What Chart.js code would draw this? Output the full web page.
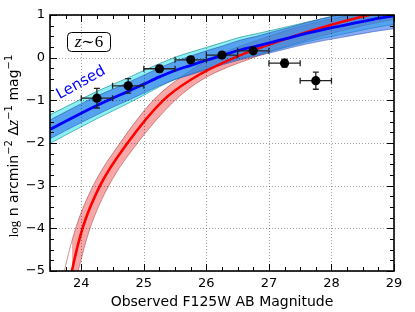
<!DOCTYPE html>
<html><head><meta charset="utf-8">
<script src="https://cdn.jsdelivr.net/npm/chart.js@4.4.1/dist/chart.umd.min.js"></script>
<style>html,body{margin:0;padding:0;background:#fff;} canvas{display:block;}</style>
</head><body>
<canvas id="c" width="415" height="312"></canvas>
<script>
// ---- axis ticks ----
const xTicks = [24, 25, 26, 27, 28, 29];
const yTicks = [-5, -4, -3, -2, -1, 0, 1];

// ---- observed points ----
const obsMag   = [24.25, 24.75, 25.25, 25.75, 26.25, 26.75, 27.25, 27.75];
const obsLogN  = [-0.95, -0.66, -0.26, -0.05, 0.06, 0.16, -0.13, -0.54];
const obsMagErr = [0.25, 0.25, 0.25, 0.25, 0.25, 0.25, 0.25, 0.25];
const obsNErr  = [0.23, 0.17, 0.08, 0.07, 0.06, 0.05, 0.09, 0.2];

// ---- intrinsic (red) model and its band ----
const redX      = [23.75, 23.85, 24.02, 24.30, 24.74, 25.31, 25.77, 26.45, 27.40, 28.00, 28.60, 29.00];
const redY      = [-5.8, -5.0, -4.0, -3.0, -2.0, -1.0, -0.5, 0.0, 0.5, 0.77, 1.0, 1.12];
const redUpX    = [23.62, 23.73, 23.91, 24.19, 24.62, 25.15, 25.55, 26.10, 26.80, 27.60, 28.30, 29.00];
const redUpY    = [-5.8, -5.0, -4.0, -3.0, -2.0, -1.0, -0.5, 0.0, 0.4, 0.77, 1.0, 1.2];
const redLoX    = [23.85, 23.95, 24.14, 24.44, 24.90, 25.50, 25.95, 26.75, 27.70, 28.50, 29.00];
const redLoY    = [-5.6, -5.0, -4.0, -3.0, -2.0, -1.0, -0.5, 0.0, 0.45, 0.75, 0.9];

// ---- lensed (blue) model ----
const blueX     = [23.5, 24.0, 24.25, 24.5, 24.75, 25.0, 25.25, 25.5, 25.75, 26.0, 26.27, 26.54, 26.8, 27.07, 27.34, 27.6, 27.87, 28.14, 28.4, 28.67, 29.0];
const blueY     = [-1.68, -1.3, -1.12, -0.95, -0.79, -0.62, -0.45, -0.3, -0.18, -0.06, 0.06, 0.18, 0.27, 0.37, 0.47, 0.57, 0.66, 0.74, 0.82, 0.9, 0.98];
const blueUpper = [-1.46, -1.08, -0.90, -0.74, -0.58, -0.41, -0.24, -0.09, 0.04, 0.16, 0.28, 0.41, 0.50, 0.61, 0.71, 0.82, 0.92, 1.01, 1.10, 1.19, 1.28];
const blueLower = [-1.90, -1.52, -1.34, -1.16, -1.00, -0.83, -0.66, -0.51, -0.40, -0.28, -0.16, -0.05, 0.04, 0.13, 0.23, 0.32, 0.40, 0.47, 0.54, 0.61, 0.68];
const cyanUpper = [-1.34, -0.97, -0.79, -0.63, -0.47, -0.30, -0.14, 0.01, 0.13, 0.24, 0.36, 0.48, 0.56, 0.65, 0.74, 0.83, 0.92, 1.01, 1.10, 1.19, 1.28];
const cyanLower = [-2.01, -1.62, -1.43, -1.25, -1.07, -0.88, -0.68, -0.51, -0.38, -0.26, -0.14, -0.02, 0.07, 0.17, 0.27, 0.37, 0.46, 0.54, 0.62, 0.70, 0.78];

const pts = (xs, ys) => xs.map((x, i) => ({x: x, y: ys[i]}));
const fmt = v => (v < 0 ? '\u2212' + Math.abs(v) : String(v));

const lineBase = {showLine: true, pointRadius: 0, cubicInterpolationMode: 'monotone', fill: false};

const datasets = [
  // 0 red lower edge
  Object.assign({}, lineBase, {data: pts(redLoX, redLoY), borderColor: 'rgba(150,70,70,0.7)', borderWidth: 0.8, order: 20}),
  // 1 red upper edge, fill to 0
  Object.assign({}, lineBase, {data: pts(redUpX, redUpY), borderColor: 'rgba(150,70,70,0.7)', borderWidth: 0.8, order: 19, fill: {target: 0}, backgroundColor: 'rgba(238,60,60,0.45)'}),
  // 2 cyan lower
  Object.assign({}, lineBase, {data: pts(blueX, cyanLower), borderColor: 'rgba(0,130,130,0.75)', borderWidth: 0.8, order: 18}),
  // 3 cyan upper
  Object.assign({}, lineBase, {data: pts(blueX, cyanUpper), borderColor: 'rgba(0,130,130,0.75)', borderWidth: 0.8, order: 17, fill: {target: 2}, backgroundColor: 'rgba(0,220,230,0.45)'}),
  // 4 blue lower
  Object.assign({}, lineBase, {data: pts(blueX, blueLower), borderColor: 'rgba(20,50,150,0.6)', borderWidth: 0.8, order: 16}),
  // 5 blue upper
  Object.assign({}, lineBase, {data: pts(blueX, blueUpper), borderColor: 'rgba(20,50,150,0.6)', borderWidth: 0.8, order: 15, fill: {target: 4}, backgroundColor: 'rgba(40,100,235,0.55)'}),
  // 6 red line
  Object.assign({}, lineBase, {data: pts(redX, redY), borderColor: '#ff0000', borderWidth: 2.6, order: 14}),
  // 7 blue line
  Object.assign({}, lineBase, {data: pts(blueX, blueY), borderColor: '#0000ff', borderWidth: 2.8, order: 13}),
  // 8 observed points
  {data: pts(obsMag, obsLogN), showLine: false, pointRadius: 4.6, pointBackgroundColor: '#000', pointBorderColor: '#000', pointBorderWidth: 0, order: 1}
];
const PTS = 8;

const deco = {
  id: 'deco',
  beforeDatasetDraw(chart, args) {
    if (args.index !== PTS) return;
    const ctx = chart.ctx, xs = chart.scales.x, ys = chart.scales.y;
    ctx.save();
    ctx.strokeStyle = '#222';
    ctx.lineWidth = 1.3;
    for (let i = 0; i < obsMag.length; i++) {
      const px = xs.getPixelForValue(obsMag[i]), py = ys.getPixelForValue(obsLogN[i]);
      const x0 = xs.getPixelForValue(obsMag[i] - obsMagErr[i]), x1 = xs.getPixelForValue(obsMag[i] + obsMagErr[i]);
      const y0 = ys.getPixelForValue(obsLogN[i] + obsNErr[i]), y1 = ys.getPixelForValue(obsLogN[i] - obsNErr[i]);
      ctx.beginPath();
      ctx.moveTo(x0, py); ctx.lineTo(x1, py);
      ctx.moveTo(x0, py - 3); ctx.lineTo(x0, py + 3);
      ctx.moveTo(x1, py - 3); ctx.lineTo(x1, py + 3);
      ctx.moveTo(px, y0); ctx.lineTo(px, y1);
      ctx.moveTo(px - 3, y0); ctx.lineTo(px + 3, y0);
      ctx.moveTo(px - 3, y1); ctx.lineTo(px + 3, y1);
      ctx.stroke();
    }
    ctx.restore();
  },
  afterDatasetsDraw(chart) {
    const ctx = chart.ctx, a = chart.chartArea, xs = chart.scales.x, ys = chart.scales.y;
    ctx.save();
    // grid (dotted, on top like matplotlib classic)
    ctx.strokeStyle = 'rgba(0,0,0,0.38)';
    ctx.lineWidth = 1;
    ctx.setLineDash([1, 2]);
    ctx.beginPath();
    xTicks.forEach(v => { const p = Math.round(xs.getPixelForValue(v)) + 0.5; ctx.moveTo(p, a.top); ctx.lineTo(p, a.bottom); });
    yTicks.forEach(v => { const p = Math.round(ys.getPixelForValue(v)) + 0.5; ctx.moveTo(a.left, p); ctx.lineTo(a.right, p); });
    ctx.stroke();
    ctx.setLineDash([]);
    // inner ticks
    ctx.strokeStyle = '#000';
    ctx.lineWidth = 1;
    ctx.beginPath();
    for (let v = xs.min; v <= xs.max + 1e-9; v += 0.25) {
      const major = Math.abs(v - Math.round(v)) < 1e-6;
      const L = major ? 7 : 4;
      const p = Math.round(xs.getPixelForValue(v)) + 0.5;
      ctx.moveTo(p, a.bottom); ctx.lineTo(p, a.bottom - L);
      ctx.moveTo(p, a.top); ctx.lineTo(p, a.top + L);
    }
    for (let v = ys.min; v <= ys.max + 1e-9; v += 0.25) {
      const major = Math.abs(v - Math.round(v)) < 1e-6;
      const L = major ? 7 : 4;
      const p = Math.round(ys.getPixelForValue(v)) + 0.5;
      ctx.moveTo(a.left, p); ctx.lineTo(a.left + L, p);
      ctx.moveTo(a.right, p); ctx.lineTo(a.right - L, p);
    }
    ctx.stroke();
    // frame
    ctx.lineWidth = 1.6;
    ctx.strokeRect(a.left, a.top, a.right - a.left, a.bottom - a.top);

    // z~6 box
    ctx.lineWidth = 1;
    ctx.beginPath();
    ctx.roundRect(67.5, 32.5, 43, 19, 4);
    ctx.stroke();
    ctx.fillStyle = '#000';
    ctx.textBaseline = 'alphabetic';
    const boxParts = [{t: 'z', f: 'italic 17px "Liberation Serif"'}, {t: '\u223C', f: '16px "DejaVu Serif"'}, {t: '6', f: '17px "Liberation Serif"'}];
    let tw = 0;
    boxParts.forEach(p => { ctx.font = p.f; p.w = ctx.measureText(p.t).width; tw += p.w; });
    let bx = 89 - tw / 2;
    boxParts.forEach(p => { ctx.font = p.f; ctx.fillText(p.t, bx, 46.5); bx += p.w; });

    // Lensed label
    ctx.save();
    ctx.translate(81, 83);
    ctx.rotate(-29 * Math.PI / 180);
    ctx.font = '15px "DejaVu Sans"';
    ctx.fillStyle = '#0000ff';
    ctx.textAlign = 'center';
    ctx.textBaseline = 'middle';
    ctx.fillText('Lensed', 0, 0);
    ctx.restore();

    // y axis title
    ctx.save();
    ctx.translate(18, 146);
    ctx.rotate(-Math.PI / 2);
    ctx.fillStyle = '#000';
    ctx.textBaseline = 'alphabetic';
    const yParts = [
      {t: 'log', f: '13px "Liberation Serif"', dy: 0},
      {t: ' n arcmin', f: '14px "DejaVu Sans"', dy: 0},
      {t: '\u22122', f: '10px "DejaVu Sans"', dy: -6},
      {t: ' \u0394', f: '14px "DejaVu Sans"', dy: 0},
      {t: 'z', f: 'italic 16px "Liberation Serif"', dy: 0},
      {t: '\u22121', f: '10px "DejaVu Sans"', dy: -6},
      {t: ' mag', f: '14px "DejaVu Sans"', dy: 0},
      {t: '\u22121', f: '10px "DejaVu Sans"', dy: -6}
    ];
    let yw = 0;
    yParts.forEach(p => { ctx.font = p.f; p.w = ctx.measureText(p.t).width; yw += p.w; });
    let yx = -yw / 2;
    yParts.forEach(p => { ctx.font = p.f; ctx.fillText(p.t, yx, p.dy); yx += p.w; });
    ctx.restore();

    // x axis title
    ctx.font = '14px "DejaVu Sans"';
    ctx.fillStyle = '#000';
    ctx.textAlign = 'center';
    ctx.textBaseline = 'alphabetic';
    ctx.fillText('Observed F125W AB Magnitude', (a.left + a.right) / 2, 306);
    ctx.restore();
  }
};

new Chart(document.getElementById('c'), {
  type: 'scatter',
  data: {datasets: datasets},
  options: {
    responsive: false,
    animation: false,
    devicePixelRatio: 1,
    layout: {padding: {top: 15, right: 21, left: 0, bottom: 0}},
    plugins: {legend: {display: false}, tooltip: {enabled: false}},
    elements: {line: {borderCapStyle: 'round'}},
    scales: {
      x: {
        type: 'linear', min: 23.5, max: 29,
        afterBuildTicks: ax => { ax.ticks = xTicks.map(v => ({value: v})); },
        afterFit: s => { s.height = 41; },
        grid: {display: false, drawTicks: false},
        border: {display: false},
        ticks: {font: {family: 'DejaVu Sans', size: 13}, color: '#000', padding: 5, maxRotation: 0, autoSkip: false, callback: v => fmt(v)}
      },
      y: {
        type: 'linear', min: -5, max: 1,
        afterBuildTicks: ax => { ax.ticks = yTicks.map(v => ({value: v})); },
        afterFit: s => { s.width = 50; },
        grid: {display: false, drawTicks: false},
        border: {display: false},
        ticks: {font: {family: 'DejaVu Sans', size: 13}, color: '#000', padding: 5, autoSkip: false, callback: v => fmt(v)}
      }
    }
  },
  plugins: [deco]
});
</script>
</body></html>
